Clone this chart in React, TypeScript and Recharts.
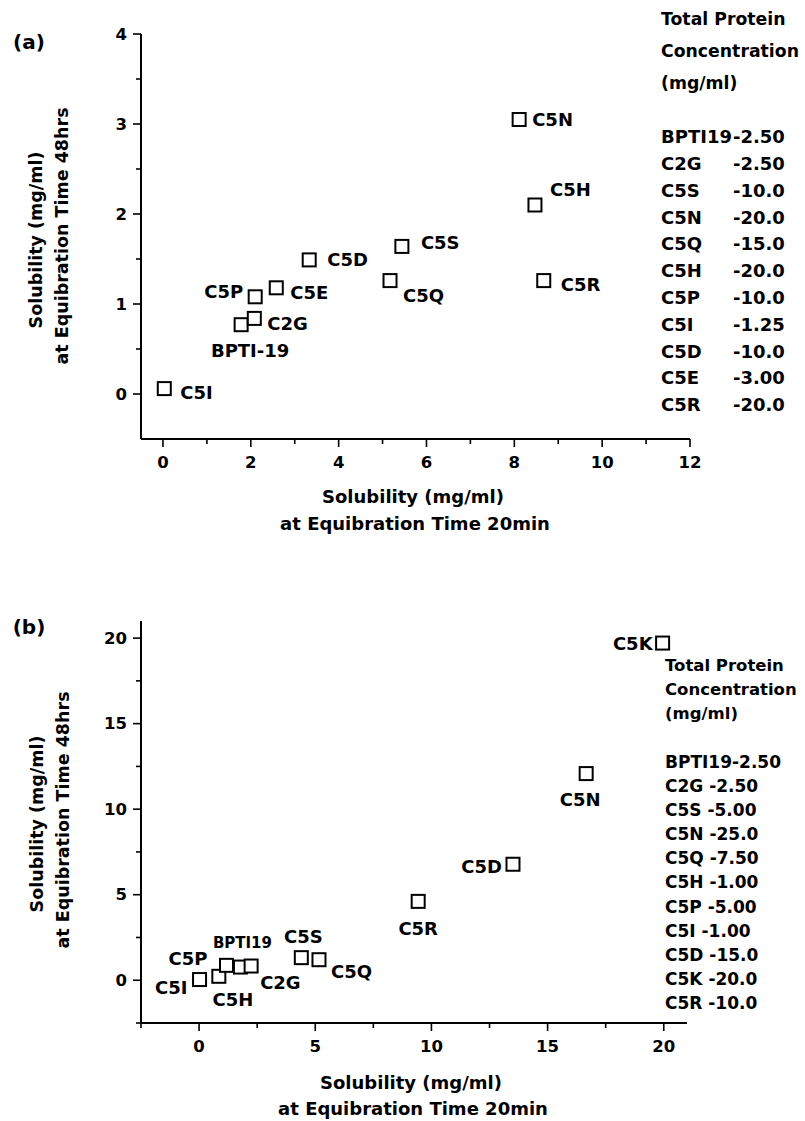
import { ScatterChart, Scatter, XAxis, YAxis } from "recharts";

const FONT = "'DejaVu Sans', Verdana, sans-serif";

// panel (a): solubility after 20 min vs after 48 hrs
const namesA = ["BPTI-19", "C2G", "C5S", "C5N", "C5Q", "C5H", "C5P", "C5I", "C5D", "C5E", "C5R"];
const min20A = [1.78, 2.08, 5.44, 8.11, 5.17, 8.47, 2.1, 0.03, 3.33, 2.58, 8.67];
const hrs48A = [0.77, 0.84, 1.64, 3.05, 1.26, 2.1, 1.08, 0.06, 1.49, 1.18, 1.26];
const xTicksA = [0, 1, 2, 3, 4, 5, 6, 7, 8, 9, 10, 11, 12];
const yTicksA = [0, 0.5, 1, 1.5, 2, 2.5, 3, 3.5, 4];
const legendNamesA = ["BPTI19", "C2G", "C5S", "C5N", "C5Q", "C5H", "C5P", "C5I", "C5D", "C5E", "C5R"];
const legendValuesA = ["-2.50", "-2.50", "-10.0", "-20.0", "-15.0", "-20.0", "-10.0", "-1.25", "-10.0", "-3.00", "-20.0"];

// panel (b)
const namesB = ["C5I", "C5H", "C5P", "BPTI19", "C2G", "C5S", "C5Q", "C5R", "C5D", "C5N", "C5K"];
const min20B = [0.02, 0.85, 1.18, 1.78, 2.24, 4.4, 5.16, 9.43, 13.51, 16.66, 19.95];
const hrs48B = [0.04, 0.23, 0.87, 0.77, 0.83, 1.32, 1.2, 4.61, 6.78, 12.08, 19.71];
const xTicksB = [-2.5, 0, 2.5, 5, 7.5, 10, 12.5, 15, 17.5, 20];
const yTicksB = [-2.5, 0, 2.5, 5, 7.5, 10, 12.5, 15, 17.5, 20];
const legendNamesB = ["BPTI19", "C2G", "C5S", "C5N", "C5Q", "C5H", "C5P", "C5I", "C5D", "C5K", "C5R"];
const legendValuesB = ["-2.50", "-2.50", "-5.00", "-25.0", "-7.50", "-1.00", "-5.00", "-1.00", "-15.0", "-20.0", "-10.0"];

// where each point label sits relative to its square
const labelPosA: Record<string, [number, number, string]> = {
  "BPTI-19": [9, 26, "middle"],
  C2G: [13, 5, "start"],
  C5S: [19, -4, "start"],
  C5N: [13, 0, "start"],
  C5Q: [13, 15, "start"],
  C5H: [15, -16, "start"],
  C5P: [-12, -5, "end"],
  C5I: [16, 4, "start"],
  C5D: [18, 0, "start"],
  C5E: [14, 5, "start"],
  C5R: [17, 4, "start"],
};
const labelPosB: Record<string, [number, number, string]> = {
  C5I: [-12, 8, "end"],
  C5H: [14, 23, "middle"],
  C5P: [-19, -7, "end"],
  BPTI19: [2, -24, "middle"],
  C2G: [9, 16, "start"],
  C5S: [2, -21, "middle"],
  C5Q: [12, 12, "start"],
  C5R: [0, 27, "middle"],
  C5D: [-11, 2, "end"],
  C5N: [-6, 26, "middle"],
  C5K: [-10, 0, "end"],
};

const dataA = namesA.map((name, i) => ({ name, x: min20A[i], y: hrs48A[i] }));
const dataB = namesB.map((name, i) => ({ name, x: min20B[i], y: hrs48B[i] }));

const textStyle = { fontFamily: FONT, fontWeight: 700, fill: "#000" };

function isMajor(v: number, step: number) {
  return Math.abs(v / step - Math.round(v / step)) < 1e-6;
}

const makeXTick = (step: number) => (props: any) => {
  const { x, y, payload } = props;
  const major = isMajor(payload.value, step);
  return (
    <g>
      <line x1={x} y1={y} x2={x} y2={y + (major ? 8 : 5)} stroke="#000" strokeWidth={1.6} />
      {major && (
        <text x={x} y={y + 23} textAnchor="middle" dominantBaseline="central" fontSize={16.5} style={textStyle}>
          {payload.value}
        </text>
      )}
    </g>
  );
};

const makeYTick = (step: number) => (props: any) => {
  const { x, y, payload } = props;
  const major = isMajor(payload.value, step);
  return (
    <g>
      <line x1={x} y1={y} x2={x - (major ? 8 : 5)} y2={y} stroke="#000" strokeWidth={1.6} />
      {major && (
        <text x={x - 14} y={y} textAnchor="end" dominantBaseline="central" fontSize={16.5} style={textStyle}>
          {payload.value}
        </text>
      )}
    </g>
  );
};

const makePoint = (labels: Record<string, [number, number, string]>) => (props: any) => {
  const { cx, cy, payload } = props;
  const [dx, dy, anchor] = labels[payload.name];
  const small = payload.name === "BPTI19";
  return (
    <g>
      <rect x={cx - 6.5} y={cy - 6.5} width={13} height={13} fill="#fff" stroke="#000" strokeWidth={2} />
      <text
        x={cx + dx}
        y={cy + dy}
        textAnchor={anchor as any}
        dominantBaseline="central"
        fontSize={small ? 15 : 18}
        style={textStyle}
      >
        {payload.name}
      </text>
    </g>
  );
};

const axisLine = { stroke: "#000", strokeWidth: 2 };

export default function App() {
  return (
    <div style={{ position: "absolute", left: 0, top: 0, width: 805, height: 1121, background: "#fff" }}>
      <div style={{ position: "absolute", left: 0, top: 0 }}>
        <ScatterChart width={805} height={560} margin={{ top: 34, right: 115, left: 81, bottom: 91 }}>
          <XAxis
            type="number"
            dataKey="x"
            domain={[-0.5, 12]}
            ticks={xTicksA}
            interval={0}
            height={30}
            tickSize={0}
            tickMargin={0}
            tickLine={false}
            axisLine={axisLine}
            tick={makeXTick(2)}
            allowDataOverflow
          />
          <YAxis
            type="number"
            dataKey="y"
            domain={[-0.5, 4]}
            ticks={yTicksA}
            interval={0}
            width={60}
            tickSize={0}
            tickMargin={0}
            tickLine={false}
            axisLine={axisLine}
            tick={makeYTick(1)}
            allowDataOverflow
          />
          <Scatter data={dataA} shape={makePoint(labelPosA)} isAnimationActive={false} />
        </ScatterChart>
      </div>
      <div style={{ position: "absolute", left: 0, top: 560 }}>
        <ScatterChart width={805} height={561} margin={{ top: 61, right: 118, left: 81, bottom: 68 }}>
          <XAxis
            type="number"
            dataKey="x"
            domain={[-2.5, 21]}
            ticks={xTicksB}
            interval={0}
            height={30}
            tickSize={0}
            tickMargin={0}
            tickLine={false}
            axisLine={axisLine}
            tick={makeXTick(5)}
            allowDataOverflow
          />
          <YAxis
            type="number"
            dataKey="y"
            domain={[-2.5, 21]}
            ticks={yTicksB}
            interval={0}
            width={60}
            tickSize={0}
            tickMargin={0}
            tickLine={false}
            axisLine={axisLine}
            tick={makeYTick(5)}
            allowDataOverflow
          />
          <Scatter data={dataB} shape={makePoint(labelPosB)} isAnimationActive={false} />
        </ScatterChart>
      </div>
      <svg
        width={805}
        height={1121}
        style={{ position: "absolute", left: 0, top: 0, pointerEvents: "none" }}
      >
        <g style={textStyle}>
          <text x={29} y={42} fontSize={20} textAnchor="middle" dominantBaseline="central">(a)</text>
          <text x={29} y={627} fontSize={20} textAnchor="middle" dominantBaseline="central">(b)</text>

          {/* axis titles (a) */}
          <text x={413} y={496} fontSize={18} textAnchor="middle" dominantBaseline="central">Solubility (mg/ml)</text>
          <text x={415} y={523} fontSize={18} textAnchor="middle" dominantBaseline="central">at Equibration Time 20min</text>
          <text x={36} y={240} fontSize={17.5} textAnchor="middle" dominantBaseline="central" transform="rotate(-90 36 240)">Solubility (mg/ml)</text>
          <text x={62} y={236} fontSize={17.5} textAnchor="middle" dominantBaseline="central" transform="rotate(-90 62 236)">at Equibration Time 48hrs</text>

          {/* axis titles (b) */}
          <text x={411} y={1082} fontSize={18} textAnchor="middle" dominantBaseline="central">Solubility (mg/ml)</text>
          <text x={413} y={1108} fontSize={18} textAnchor="middle" dominantBaseline="central">at Equibration Time 20min</text>
          <text x={37} y={824} fontSize={17.5} textAnchor="middle" dominantBaseline="central" transform="rotate(-90 37 824)">Solubility (mg/ml)</text>
          <text x={63} y={820} fontSize={17.5} textAnchor="middle" dominantBaseline="central" transform="rotate(-90 63 820)">at Equibration Time 48hrs</text>

          {/* legend (a) */}
          <text x={661} y={19} fontSize={17.3} dominantBaseline="central">Total Protein</text>
          <text x={661} y={51} fontSize={17.3} dominantBaseline="central">Concentration</text>
          <text x={661} y={83} fontSize={17.3} dominantBaseline="central">(mg/ml)</text>
          {legendNamesA.map((n, i) => (
            <g key={n + i}>
              <text x={661} y={136.7 + i * 26.8} fontSize={18} dominantBaseline="central">{n}</text>
              <text x={733} y={136.7 + i * 26.8} fontSize={18} dominantBaseline="central">{legendValuesA[i]}</text>
            </g>
          ))}

          {/* legend (b) */}
          <text x={665} y={665} fontSize={16.5} dominantBaseline="central">Total Protein</text>
          <text x={665} y={689} fontSize={16.5} dominantBaseline="central">Concentration</text>
          <text x={665} y={713} fontSize={16.5} dominantBaseline="central">(mg/ml)</text>
          {legendNamesB.map((n, i) => (
            <text key={n + i} x={665} y={761.7 + i * 24.15} fontSize={17} dominantBaseline="central">
              {n.length > 3 ? n + legendValuesB[i] : n + " " + legendValuesB[i]}
            </text>
          ))}
        </g>
      </svg>
    </div>
  );
}
